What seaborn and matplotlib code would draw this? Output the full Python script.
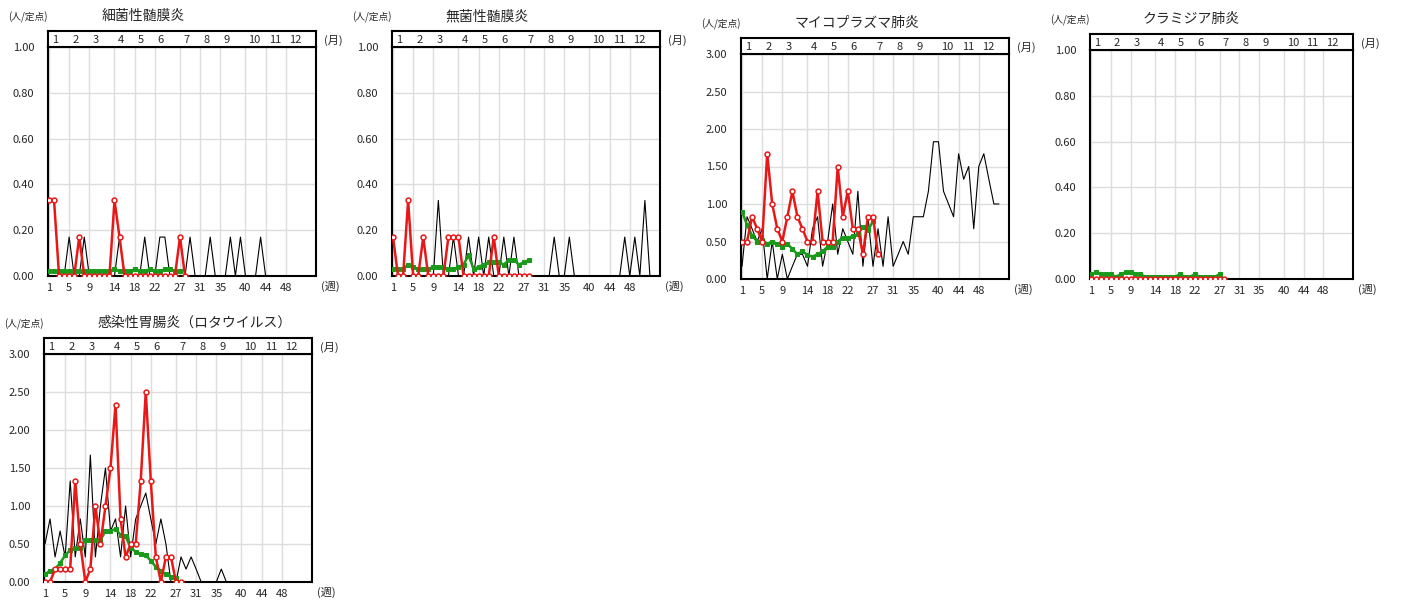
import matplotlib
matplotlib.use("Agg")
from matplotlib import pyplot as plt
import numpy as np
import pandas as pd
import seaborn as sns

sns.set_style("white")
plt.rcParams['font.family'] = ['Noto Sans CJK JP', 'DejaVu Sans']

month_weeks = [1, 5, 9, 14, 18, 22, 27, 31, 35, 40, 44, 48]
month_labels = ['1', '2', '3', '4', '5', '6', '7', '8', '9', '10', '11', '12']

titles = ['細菌性髄膜炎', '無菌性髄膜炎', 'マイコプラズマ肺炎', 'クラミジア肺炎', '感染性胃腸炎（ロタウイルス）']
ymax = [1.0, 1.0, 3.0, 1.0, 3.0]
ystep = [0.2, 0.2, 0.5, 0.2, 0.5]

# this year (red), 28 weeks
red_bact = [0.33, 0.33, 0, 0, 0, 0, 0.17, 0, 0, 0, 0, 0, 0, 0.33, 0.17, 0, 0, 0, 0, 0, 0, 0, 0, 0, 0, 0, 0.17, 0]
red_asep = [0.17, 0, 0, 0.33, 0, 0, 0.17, 0, 0, 0, 0, 0.17, 0.17, 0.17, 0, 0, 0, 0, 0, 0, 0.17, 0, 0, 0, 0, 0, 0, 0]
red_myco = [0.5, 0.5, 0.83, 0.67, 0.5, 1.67, 1.0, 0.67, 0.5, 0.83, 1.17, 0.83, 0.67, 0.5, 0.5, 1.17, 0.5, 0.5,
            0.5, 1.5, 0.83, 1.17, 0.67, 0.67, 0.33, 0.83, 0.83, 0.33]
red_chla = [0] * 28
red_rota = [0, 0, 0.17, 0.17, 0.17, 0.17, 1.33, 0.5, 0, 0.17, 1.0, 0.5, 1.0, 1.5, 2.33, 0.83, 0.33, 0.5, 0.5,
            1.33, 2.5, 1.33, 0.33, 0, 0.33, 0.33, 0, 0]

# average (green), 27 weeks
grn_bact = [0.02] * 13 + [0.03, 0.02, 0.02, 0.02, 0.03, 0.02, 0.02, 0.03, 0.02, 0.02, 0.03, 0.03, 0.02, 0.02]
grn_asep = [0.03, 0.03, 0.03, 0.05, 0.04, 0.03, 0.03, 0.03, 0.04, 0.04, 0.04, 0.03, 0.03, 0.04, 0.05, 0.09,
            0.03, 0.04, 0.05, 0.06, 0.06, 0.06, 0.05, 0.07, 0.07, 0.05, 0.06, 0.07]
grn_myco = [0.9, 0.72, 0.58, 0.5, 0.52, 0.47, 0.5, 0.47, 0.43, 0.47, 0.4, 0.33, 0.37, 0.32, 0.3, 0.33, 0.37,
            0.43, 0.43, 0.5, 0.55, 0.55, 0.57, 0.6, 0.7, 0.65, 0.77]
grn_chla = [0.02, 0.03, 0.02, 0.02, 0.02, 0.01, 0.02, 0.03, 0.03, 0.02, 0.02, 0.01, 0.01, 0.01, 0.01, 0.01,
            0.01, 0.01, 0.02, 0.01, 0.01, 0.02, 0.01, 0.01, 0.01, 0.01, 0.02]
grn_rota = [0.1, 0.15, 0.17, 0.25, 0.35, 0.42, 0.45, 0.45, 0.55, 0.55, 0.55, 0.55, 0.67, 0.67, 0.7, 0.62, 0.6,
            0.45, 0.4, 0.37, 0.35, 0.28, 0.2, 0.15, 0.1, 0.07, 0.05]

# last year (black), 52 weeks
blk_bact = [0, 0, 0, 0, 0.17, 0, 0, 0.17, 0, 0, 0, 0, 0, 0, 0.17, 0, 0, 0, 0, 0.17, 0, 0, 0.17, 0.17, 0, 0,
            0, 0, 0.17, 0, 0, 0, 0.17, 0, 0, 0, 0.17, 0, 0.17, 0, 0, 0, 0.17, 0, 0, 0, 0, 0, 0, 0, 0, 0]
blk_asep = [0, 0, 0, 0, 0, 0, 0, 0, 0, 0.33, 0, 0, 0.17, 0, 0, 0.17, 0, 0.17, 0, 0.17, 0, 0, 0.17, 0, 0.17, 0,
            0, 0, 0, 0, 0, 0, 0.17, 0, 0, 0.17, 0, 0, 0, 0, 0, 0, 0, 0, 0, 0, 0.17, 0, 0.17, 0, 0.33, 0]
blk_myco = [0.17, 0.83, 0.67, 0.5, 0.67, 0, 0.5, 0, 0.33, 0, 0.17, 0.33, 0.33, 0.17, 0.67, 0.83, 0.17, 0.5,
            1.0, 0.33, 0.67, 0.5, 0.33, 1.17, 0.17, 0.83, 0.17, 0.67, 0.17, 0.83, 0.17, 0.33, 0.5, 0.33, 0.83,
            0.83, 0.83, 1.17, 1.83, 1.83, 1.17, 1.0, 0.83, 1.67, 1.33, 1.5, 0.67, 1.5, 1.67, 1.33, 1.0, 1.0]
blk_chla = [0] * 52
blk_rota = [0.5, 0.83, 0.33, 0.67, 0.33, 1.33, 0.33, 0.83, 0.33, 1.67, 0.33, 1.0, 1.5, 0.67, 0.83, 0.33, 1.0,
            0.33, 0.83, 1.0, 1.17, 0.83, 0.5, 0.83, 0.5, 0, 0, 0.33, 0.17, 0.33, 0.17, 0, 0, 0, 0, 0.17, 0,
            0, 0, 0, 0, 0, 0, 0, 0, 0, 0, 0, 0, 0, 0, 0]

reds = [red_bact, red_asep, red_myco, red_chla, red_rota]
greens = [grn_bact, grn_asep, grn_myco, grn_chla, grn_rota]
blacks = [blk_bact, blk_asep, blk_myco, blk_chla, blk_rota]

W, H = 1401, 605
fig = plt.figure(figsize=(W / 100, H / 100), dpi=100)

# plot-area boxes in pixels: left, strip top, plot top, bottom, right
boxes = [(48, 31, 47, 276, 316), (392, 31, 47, 276, 660), (741, 38, 54, 279, 1009),
         (1090, 34, 50, 279, 1353), (44, 338, 354, 582, 312)]

for i, (l, st, pt, b, r) in enumerate(boxes):
    ax = fig.add_axes([l / W, 1 - b / H, (r - l) / W, (b - pt) / H])
    sx = fig.add_axes([l / W, 1 - pt / H, (r - l) / W, (pt - st) / H])

    blk = pd.DataFrame({'week': np.arange(1, len(blacks[i]) + 1), 'v': blacks[i]})
    grn = pd.DataFrame({'week': np.arange(1, len(greens[i]) + 1), 'v': greens[i]})
    red = pd.DataFrame({'week': np.arange(1, len(reds[i]) + 1), 'v': reds[i]})
    sns.lineplot(data=blk, x='week', y='v', ax=ax, color='black', lw=0.8, zorder=3)
    sns.lineplot(data=grn, x='week', y='v', ax=ax, color='#1a9a1a', lw=1.8, marker='s', ms=2.5,
                 mec='#1a9a1a', zorder=4)
    sns.lineplot(data=red, x='week', y='v', ax=ax, color='#e81818', lw=1.8, marker='o', ms=3.5,
                 mfc='white', mec='#e81818', mew=1.1, zorder=5)

    ax.set_xlim(0.8, 54)
    ax.set_ylim(0, ymax[i])
    ax.set_xticks(month_weeks)
    ax.set_xticklabels([str(w) for w in month_weeks], fontsize=8)
    yt = np.arange(0, ymax[i] + 1e-9, ystep[i])
    ax.set_yticks(yt)
    ax.set_yticklabels([f'{v:.2f}' for v in yt], fontsize=8)
    ax.grid(True, color='#dddddd', lw=1)
    ax.set_xlabel('')
    ax.set_ylabel('')
    ax.tick_params(length=3, pad=2)
    ax.tick_params(axis='y', length=0, pad=10)
    for s in ax.spines.values():
        s.set_linewidth(1.5)
        s.set_color('black')
    ax.text(1.02, -0.02, '(週)', transform=ax.transAxes, fontsize=8, ha='left', va='top')

    sx.set_xlim(0.8, 54)
    sx.set_ylim(0, 1)
    sx.set_xticks([])
    sx.set_yticks([])
    for s in sx.spines.values():
        s.set_linewidth(1.5)
        s.set_color('black')
    for w, m in zip(month_weeks, month_labels):
        sx.text(w + 0.6, 0.45, m, fontsize=8, ha='left', va='center')
    sx.text(1.03, 0.4, '(月)', transform=sx.transAxes, fontsize=8, ha='left', va='center')

    sx.text(-0.15, 1.5, '(人/定点)', transform=sx.transAxes, fontsize=7, ha='left', va='bottom')
    sx.text(0.2, 1.5, titles[i], transform=sx.transAxes, fontsize=10, ha='left', va='bottom')

fig.savefig('out.png', dpi=100)
